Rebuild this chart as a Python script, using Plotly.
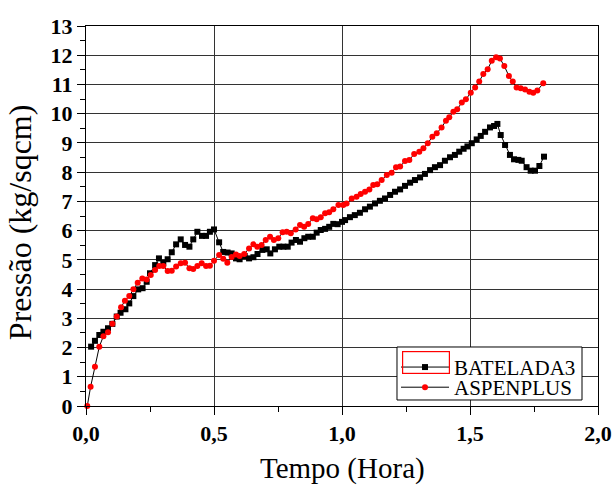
import plotly.graph_objects as go

# BATELADA3 (black squares)
bat_t = [0.02, 0.035, 0.052, 0.068, 0.086, 0.103, 0.12, 0.135, 0.154, 0.169, 0.185, 0.204, 0.221, 0.237,
         0.25, 0.27, 0.285, 0.302, 0.319, 0.335, 0.352, 0.37, 0.387, 0.404, 0.419, 0.435, 0.453, 0.469,
         0.484, 0.50, 0.52, 0.536, 0.553, 0.569, 0.586, 0.60, 0.62, 0.637, 0.654, 0.67, 0.689, 0.706,
         0.72, 0.738, 0.755, 0.771, 0.788, 0.803, 0.82, 0.836, 0.853, 0.868, 0.886, 0.901, 0.917, 0.934,
         0.95, 0.966, 0.983, 1.0, 1.012, 1.031, 1.05, 1.07, 1.09, 1.109, 1.129, 1.148, 1.168, 1.188,
         1.207, 1.227, 1.246, 1.266, 1.285, 1.305, 1.324, 1.344, 1.363, 1.383, 1.402, 1.422, 1.441,
         1.458, 1.475, 1.49, 1.507, 1.526, 1.542, 1.559, 1.578, 1.594, 1.607, 1.62, 1.637, 1.656,
         1.672, 1.689, 1.702, 1.721, 1.737, 1.754, 1.771, 1.789]
bat_p = [2.03, 2.23, 2.43, 2.54, 2.66, 2.81, 3.06, 3.19, 3.31, 3.51, 3.76, 3.99, 4.03, 4.25,
         4.54, 4.82, 5.05, 4.9, 5.02, 5.26, 5.53, 5.70, 5.51, 5.45, 5.70, 5.96, 5.82, 5.82,
         5.96, 6.04, 5.6, 5.27, 5.25, 5.22, 5.05, 5.02, 5.13, 5.05, 5.09, 5.2, 5.34, 5.36,
         5.22, 5.36, 5.45, 5.45, 5.45, 5.59, 5.68, 5.62, 5.74, 5.79, 5.79, 5.93, 6.02, 6.06,
         6.13, 6.23, 6.22, 6.3, 6.36, 6.46, 6.53, 6.61, 6.73, 6.82, 6.93, 7.02, 7.1, 7.22,
         7.33, 7.41, 7.53, 7.64, 7.73, 7.82, 7.94, 8.07, 8.17, 8.24, 8.39, 8.51, 8.59,
         8.7, 8.8, 8.88, 8.99, 9.12, 9.24, 9.38, 9.53, 9.58, 9.65, 9.27, 8.93, 8.59,
         8.44, 8.42, 8.39, 8.17, 8.05, 8.05, 8.21, 8.53]

# ASPENPLUS (red circles)
asp_t = [0.005, 0.018, 0.035, 0.052, 0.068, 0.086, 0.103, 0.12, 0.137, 0.152, 0.169, 0.185, 0.202, 0.22,
         0.237, 0.253, 0.27, 0.286, 0.302, 0.319, 0.335, 0.352, 0.37, 0.387, 0.404, 0.419, 0.435,
         0.452, 0.469, 0.484, 0.50, 0.52, 0.536, 0.552, 0.569, 0.586, 0.60, 0.618, 0.637, 0.654,
         0.669, 0.686, 0.702, 0.719, 0.734, 0.751, 0.768, 0.784, 0.80, 0.819, 0.836, 0.852, 0.868,
         0.886, 0.901, 0.917, 0.934, 0.95, 0.966, 0.986, 1.005, 1.018, 1.038, 1.057, 1.073, 1.09,
         1.107, 1.122, 1.138, 1.155, 1.175, 1.194, 1.211, 1.227, 1.246, 1.263, 1.282, 1.302, 1.318,
         1.335, 1.353, 1.37, 1.389, 1.406, 1.419, 1.435, 1.45, 1.468, 1.484, 1.503, 1.52, 1.536,
         1.552, 1.569, 1.585, 1.602, 1.617, 1.634, 1.652, 1.667, 1.682, 1.698, 1.715, 1.732,
         1.747, 1.763, 1.786]
asp_p = [0.0, 0.66, 1.34, 2.03, 2.39, 2.52, 2.81, 3.06, 3.38, 3.6, 3.76, 3.99, 4.22, 4.36,
         4.33, 4.48, 4.65, 4.79, 4.79, 4.62, 4.63, 4.77, 4.88, 4.9, 4.71, 4.69, 4.79,
         4.88, 4.79, 4.8, 4.97, 5.17, 5.04, 4.9, 5.1, 5.18, 5.13, 5.2, 5.39, 5.53,
         5.45, 5.51, 5.68, 5.79, 5.68, 5.74, 5.94, 5.96, 5.91, 6.04, 6.19, 6.13, 6.23,
         6.42, 6.39, 6.46, 6.59, 6.63, 6.73, 6.88, 6.88, 6.93, 7.1, 7.16, 7.25, 7.33,
         7.41, 7.56, 7.59, 7.73, 7.9, 7.98, 8.17, 8.19, 8.38, 8.42, 8.62, 8.7, 8.82,
         8.99, 9.21, 9.33, 9.53, 9.76, 9.88, 10.07, 10.15, 10.38, 10.49, 10.72, 10.9, 11.1,
         11.36, 11.52, 11.81, 11.93, 11.89, 11.63, 11.29, 11.1, 10.9, 10.87, 10.83, 10.75,
         10.72, 10.79, 11.04]

x_ticks = [0.0, 0.5, 1.0, 1.5, 2.0]
y_ticks = list(range(0, 14))

serif = "Liberation Serif, Times New Roman, serif"

fig = go.Figure()
fig.add_trace(go.Scatter(
    x=bat_t, y=bat_p, name="BATELADA3", mode="lines+markers",
    line=dict(color="black", width=1),
    marker=dict(symbol="square", size=6, color="black"),
    cliponaxis=False, legend="legend"))
fig.add_trace(go.Scatter(
    x=asp_t, y=asp_p, name="ASPENPLUS", mode="lines+markers",
    line=dict(color="black", width=1),
    marker=dict(symbol="circle", size=6, color="red"),
    cliponaxis=False, legend="legend2"))

axis_common = dict(
    showline=True, linecolor="black", linewidth=1, mirror=True,
    showgrid=True, gridcolor="#333333", gridwidth=1.3,
    ticks="outside", ticklen=8, tickcolor="black", tickwidth=1,
    zeroline=False, automargin=False,
    tickfont=dict(family=serif, size=22, color="black", weight="bold"),
)

fig.update_xaxes(
    range=[0, 2.0], tickvals=x_ticks, tickformat=".1f",
    minor=dict(dtick=0.25, ticks="outside", ticklen=5, tickcolor="black", showgrid=False),
    **axis_common)
fig.update_yaxes(
    range=[0, 13], tickvals=y_ticks,
    minor=dict(dtick=0.5, ticks="outside", ticklen=5, tickcolor="black", showgrid=False),
    **axis_common)

legend_common = dict(
    xanchor="left", yanchor="top",
    bgcolor="rgba(0,0,0,0)", borderwidth=0,
    font=dict(family=serif, size=21, color="black"),
    itemwidth=48,
)

fig.update_layout(
    width=616, height=487,
    margin=dict(l=86, r=18, t=26, b=81),
    paper_bgcolor="white", plot_bgcolor="white",
    separators=",.",
    showlegend=True,
    legend=dict(x=0.6055, y=0.1555, **legend_common),
    legend2=dict(x=0.6055, y=0.1025, **legend_common),
    shapes=[dict(type="rect", xref="paper", yref="paper",
                 x0=0.6074, x1=0.96875, y0=0.0158, y1=0.1553,
                 line=dict(color="black", width=1), fillcolor="white", layer="above")],
    annotations=[
        dict(text="Tempo (Hora)", xref="paper", yref="paper", x=0.5, y=-0.165,
             xanchor="center", yanchor="middle", showarrow=False,
             font=dict(family=serif, size=29, color="black")),
        dict(text="Pressão (kg/sqcm)", xref="paper", yref="paper", x=-0.13, y=0.485,
             xanchor="center", yanchor="middle", showarrow=False, textangle=-90,
             font=dict(family=serif, size=32, color="black")),
        dict(text=" ", xref="paper", yref="paper", x=0.664, y=0.1145,
             xanchor="center", yanchor="middle", showarrow=False,
             width=46, height=21, borderpad=0, bordercolor="red", borderwidth=1.2,
             font=dict(size=10)),
    ],
)

fig.write_html("out.html", config={"displayModeBar": False},
               post_script="document.body.style.margin='0';document.body.style.padding='0';")
